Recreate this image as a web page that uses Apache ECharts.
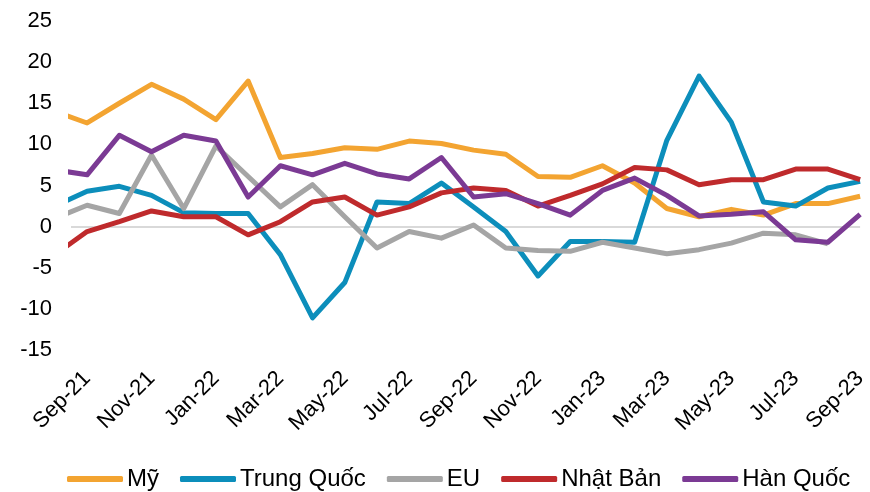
<!DOCTYPE html>
<html>
<head>
<meta charset="utf-8">
<script src="https://cdn.jsdelivr.net/npm/echarts@6/dist/echarts.min.js"></script>
<style>html,body{margin:0;padding:0;background:#fff}#c{width:870px;height:492px}</style>
</head>
<body>
<div id="c"></div>
<script>
// Months (first one, Aug-21, is only partly visible at the left edge)
const months = ['Aug-21','Sep-21','Oct-21','Nov-21','Dec-21','Jan-22','Feb-22','Mar-22','Apr-22','May-22','Jun-22','Jul-22','Aug-22','Sep-22','Oct-22','Nov-22','Dec-22','Jan-23','Feb-23','Mar-23','Apr-23','May-23','Jun-23','Jul-23','Aug-23','Sep-23'];
const tickMonths = ['Sep-21','Nov-21','Jan-22','Mar-22','May-22','Jul-22','Sep-22','Nov-22','Jan-23','Mar-23','May-23','Jul-23','Sep-23'];
const yTicks = [-15,-10,-5,0,5,10,15,20,25];

const seriesNames = ['Mỹ','Trung Quốc','EU','Nhật Bản','Hàn Quốc'];
const my       = [14.0,12.6,15.0,17.3,15.5,13.0,17.7,8.4,8.9,9.6,9.4,10.4,10.1,9.3,8.8,6.1,6.0,7.4,5.3,2.2,1.2,2.1,1.4,2.8,2.8,3.7];
const trungQuoc= [2.5,4.3,4.9,3.8,1.7,1.6,1.6,-3.4,-11.1,-6.8,3.0,2.8,5.3,2.4,-0.6,-6.0,-1.8,-1.8,-1.9,10.5,18.3,12.7,3.0,2.5,4.7,5.5];
const eu       = [1.0,2.6,1.6,8.7,2.2,9.8,6.1,2.4,5.1,1.2,-2.6,-0.6,-1.4,0.2,-2.6,-2.9,-3.0,-1.9,-2.6,-3.3,-2.8,-2.0,-0.8,-1.0,-2.1,null];
const nhatBan  = [-3.4,-0.6,0.6,1.9,1.2,1.2,-1.0,0.6,3.0,3.6,1.4,2.4,4.1,4.7,4.4,2.5,3.8,5.2,7.2,6.9,5.1,5.7,5.7,7.0,7.0,5.7];
const hanQuoc  = [6.9,6.3,11.1,9.1,11.1,10.4,3.6,7.4,6.3,7.7,6.4,5.8,8.4,3.6,4.0,2.8,1.4,4.4,5.9,3.8,1.3,1.5,1.8,-1.6,-1.9,1.5];

const allData = [my, trungQuoc, eu, nhatBan, hanQuoc];
const colors = ['#F3A431','#0C8EBB','#A5A5A5','#BF2A2C','#7B3A94'];

const font = 'Liberation Sans, Arial, sans-serif';
const chart = echarts.init(document.getElementById('c'), null, {renderer:'canvas'});
const tickIdx = tickMonths.map(m => months.indexOf(m));

chart.setOption({
  animation: false,
  backgroundColor: '#fff',
  grid: {left: 71, right: 4, top: 21, bottom: 142, containLabel: false},
  xAxis: {
    type: 'value', min: 0.5, max: months.length - 1,
    axisLine: {show: false}, axisTick: {show: false}, splitLine: {show: false},
    axisLabel: {
      customValues: tickIdx, rotate: 45, margin: 25,
      fontFamily: font, fontSize: 22, color: '#000',
      formatter: v => months[Math.round(v)] || ''
    }
  },
  yAxis: {
    type: 'value', min: yTicks[0], max: yTicks[yTicks.length-1], interval: 5,
    axisLine: {show: false}, axisTick: {show: false},
    axisLabel: {fontFamily: font, fontSize: 22, color: '#000', margin: 19},
    splitLine: {show: true, lineStyle: {width: 2, color: yTicks.map(t => t === 0 ? '#D9D9D9' : 'rgba(0,0,0,0)')}}
  },
  legend: {
    left: 62, top: 462, itemGap: 21, itemWidth: 56, itemHeight: 6, icon: 'roundRect',
    textStyle: {fontFamily: font, fontSize: 24, color: '#000', padding: [0,0,0,-1]},
    data: seriesNames
  },
  series: seriesNames.map((n, k) => ({
    name: n, type: 'line', symbol: 'none', clip: true,
    lineStyle: {width: 5, color: colors[k], join: 'round'},
    itemStyle: {color: colors[k]},
    data: allData[k].map((v, i) => [i, v])
  }))
});
</script>
</body>
</html>
